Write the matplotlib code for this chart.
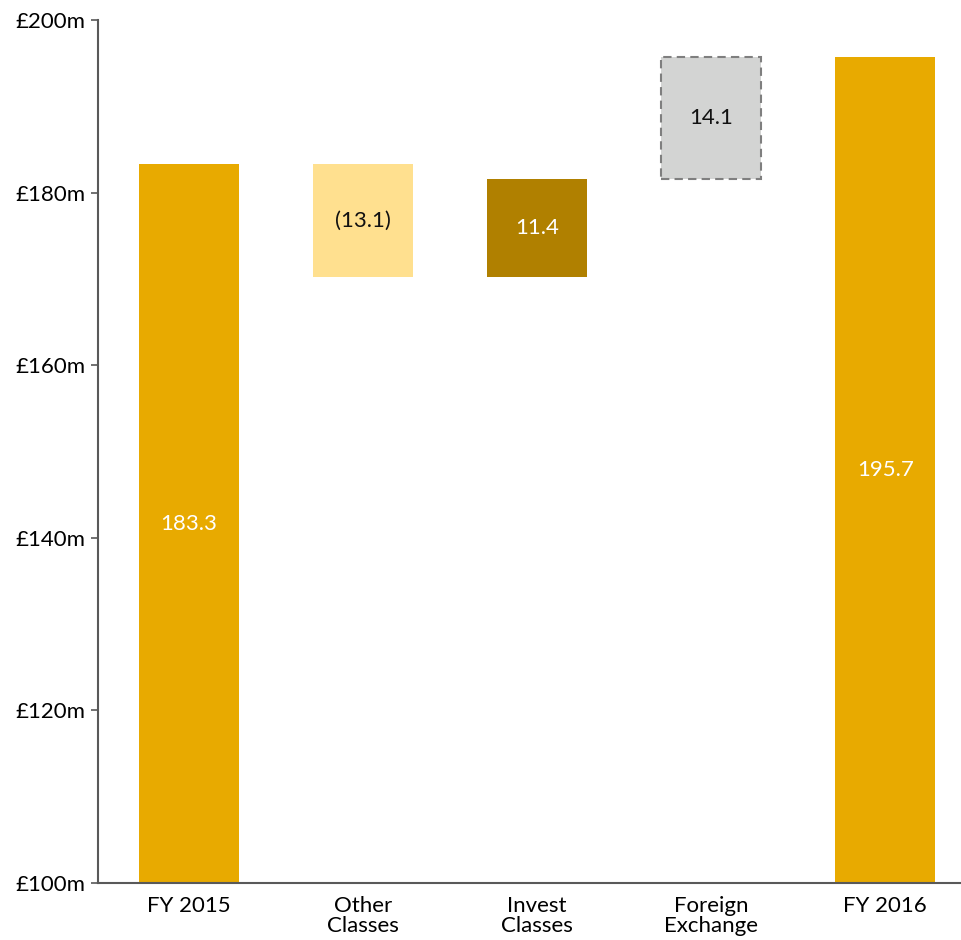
import matplotlib.pyplot as plt
import numpy as np

plt.rcParams["font.family"] = ["Lato", "DejaVu Sans"]

categories = ["FY 2015", "Other\nClasses", "Invest\nClasses", "Foreign\nExchange", "FY 2016"]
start_total = 183.3
changes = [-13.1, 11.4, 14.1]
end_total = 195.7
change_labels = ["(13.1)", "11.4", "14.1"]

GOLD = "#E8AA00"
change_colors = ["#FFE08F", "#B08000", "#D3D4D3"]
change_text = ["#111111", "white", "#111111"]
FS = 16

fig = plt.figure(figsize=(9.62, 9.40), dpi=100)
ax = fig.add_axes([0.1019, 0.0606, 0.8981, 0.9181])

x = np.arange(len(categories))
width = 0.575
base = 100

# totals
ax.bar(x[0], start_total - base, width, bottom=base, color=GOLD)
ax.bar(x[-1], end_total - base, width, bottom=base, color=GOLD)
ax.text(x[0], (start_total + base) / 2, f"{start_total:.1f}", ha="center", va="center",
        color="white", fontsize=FS)
ax.text(x[-1], (end_total + base) / 2, f"{end_total:.1f}", ha="center", va="center",
        color="white", fontsize=FS)

# floating change bars
level = start_total
for i, (d, c, lbl, tc) in enumerate(zip(changes, change_colors, change_labels, change_text)):
    lo, hi = (level + d, level) if d < 0 else (level, level + d)
    kw = {}
    if i == 2:
        kw = dict(edgecolor="#7F7F7F", linestyle=(0, (4, 2.5)), linewidth=1.5)
    ax.bar(x[i + 1], hi - lo, width, bottom=lo, color=c, **kw)
    ax.text(x[i + 1], (lo + hi) / 2, lbl, ha="center", va="center", color=tc, fontsize=FS)
    level += d

ax.set_ylim(100, 200)
ax.set_xlim(-0.52, 4.44)
ax.set_yticks(np.arange(100, 201, 20))
ax.set_yticklabels([f"£{v}m" for v in range(100, 201, 20)], fontsize=FS)
ax.set_xticks(x)
ax.set_xticklabels(categories, fontsize=FS, linespacing=1.0)
ax.tick_params(axis="x", length=0, pad=9)
ax.tick_params(axis="y", length=5, width=1.2, color="#595959", pad=4)

for side in ["top", "right"]:
    ax.spines[side].set_visible(False)
for side in ["left", "bottom"]:
    ax.spines[side].set_color("#595959")
    ax.spines[side].set_linewidth(1.5)

fig.savefig("out.png", dpi=100)
